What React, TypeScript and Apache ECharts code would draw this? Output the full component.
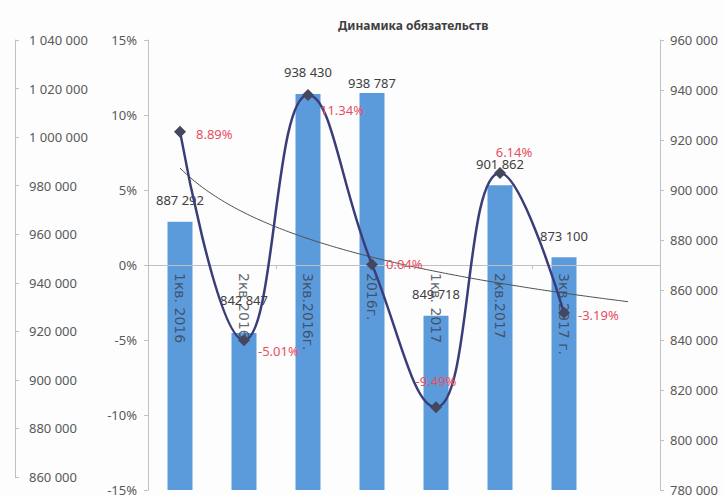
import React, { useEffect, useRef } from "react";
import * as echarts from "echarts";

// ---- data ----
const categories = ["1кв. 2016", "2кв.2016", "3кв.2016г.", "2016г.", "1кв. 2017", "2кв.2017", "3кв.2017 г.", ""];
const liabilities = [887292, 842847, 938430, 938787, 849718, 901862, 873100];
const growthPct = [8.89, -5.01, 11.34, 0.04, -9.49, 6.14, -3.19];
const titleText = "Динамика обязательств";
const pctAxis = { min: -15, max: 15, step: 5 };
const rightAxis = { min: 780000, max: 960000, step: 20000 };
const leftAxis = { min: 860000, max: 1040000, step: 20000 };
const categoryAxisCrossesAt = 0; // category axis crosses the % axis at 0%
const trendForwardPeriods = 1;

// Excel-style logarithmic trendline fitted to growthPct (least squares on ln x)
function logFit(ys: number[]) {
  const xs = ys.map((_, i) => Math.log(i + 1));
  const n = ys.length;
  const mx = xs.reduce((a, b) => a + b, 0) / n;
  const my = ys.reduce((a, b) => a + b, 0) / n;
  let sxy = 0, sxx = 0;
  for (let i = 0; i < n; i++) {
    sxy += (xs[i] - mx) * (ys[i] - my);
    sxx += (xs[i] - mx) * (xs[i] - mx);
  }
  const b = sxy / sxx;
  return { a: my - b * mx, b };
}

const fmtThousands = (v: number) => String(v).replace(/\B(?=(\d{3})+(?!\d))/g, " ");

export default function App() {
  const ref = useRef<HTMLDivElement>(null);
  useEffect(() => {
    document.body.style.margin = "0";
    if (!ref.current) return;
    const chart = echarts.init(ref.current, undefined, { renderer: "svg" });

    const { a, b } = logFit(growthPct);
    const trend: number[][] = [];
    const last = growthPct.length + trendForwardPeriods;
    for (let x = 1; x <= last + 1e-9; x += 0.05) trend.push([x, a + b * Math.log(x)]);

    const font = "Noto Sans";
    const gray = "#595959";
    const axisLineColor = "#c0c0c0";

    const barLabelDist: Record<number, number> = { 1: 26, 3: 4 };
    const pctLabel: Record<number, any> = {
      0: { position: "right", distance: 10, offset: [0, 2] },
      1: { position: "right", distance: 8, offset: [0, 11] },
      2: { position: "right", distance: 6, offset: [0, 15] },
      3: { position: "right", distance: 8 },
      4: { position: "top", distance: 14, offset: [0, 0] },
      5: { position: "top", distance: 8, offset: [14, 0] },
      6: { position: "right", distance: 8, offset: [0, 2] },
    };

    chart.setOption({
      animation: false,
      backgroundColor: "#fdfdfd",
      title: {
        text: titleText,
        left: 333,
        top: 14,
        textStyle: { fontFamily: font, fontSize: 12, fontWeight: "bold", color: "#404040" },
      },
      grid: [
        { left: 148, right: 63, top: 40, bottom: 5, outerBoundsMode: "none", containLabel: false },
        { left: 15, width: 10, top: 40, bottom: 18, outerBoundsMode: "none", containLabel: false },
      ],
      xAxis: [
        {
          type: "category",
          gridIndex: 0,
          data: categories,
          axisLine: { onZero: true, onZeroAxisIndex: 0, lineStyle: { color: axisLineColor } },
          axisTick: { show: true, length: 4, lineStyle: { color: axisLineColor } },
          axisLabel: { show: false },
          z: 5,
        },
        { type: "value", gridIndex: 0, min: 0.5, max: 8.5, show: false },
        { type: "value", gridIndex: 1, show: false },
      ],
      yAxis: [
        {
          type: "value",
          gridIndex: 0,
          position: "left",
          min: pctAxis.min,
          max: pctAxis.max,
          interval: pctAxis.step,
          axisLine: { show: true, onZero: false, lineStyle: { color: axisLineColor } },
          axisTick: { show: true, length: 4, lineStyle: { color: axisLineColor } },
          splitLine: { show: false },
          axisLabel: { formatter: "{value}%", margin: 11, fontFamily: font, fontSize: 13, color: gray },
        },
        {
          type: "value",
          gridIndex: 0,
          position: "right",
          min: rightAxis.min,
          max: rightAxis.max,
          interval: rightAxis.step,
          axisLine: { show: true, onZero: false, lineStyle: { color: axisLineColor } },
          axisTick: { show: true, length: 4, lineStyle: { color: axisLineColor } },
          splitLine: { show: false },
          axisLabel: { formatter: fmtThousands, margin: 10, fontFamily: font, fontSize: 13, color: gray },
        },
        {
          type: "value",
          gridIndex: 1,
          position: "left",
          min: leftAxis.min,
          max: leftAxis.max,
          interval: leftAxis.step,
          axisLine: { show: true, onZero: false, lineStyle: { color: axisLineColor } },
          axisTick: { show: true, inside: true, length: 4, lineStyle: { color: axisLineColor } },
          splitLine: { show: false },
          axisLabel: { inside: true, formatter: fmtThousands, margin: 14, fontFamily: font, fontSize: 13, color: gray },
        },
      ],
      series: [
        {
          type: "bar",
          xAxisIndex: 0,
          yAxisIndex: 1,
          barWidth: 25,
          itemStyle: { color: "#5c9bdb" },
          data: liabilities.map((v, i) => ({
            value: v,
            label: { distance: barLabelDist[i] ?? 15 },
          })),
          label: {
            show: true,
            position: "top",
            formatter: (p: any) => fmtThousands(p.value),
            fontFamily: font,
            fontSize: 13,
            color: "#404040",
          },
          z: 2,
        },
        {
          // category-axis labels drawn where the axis crosses (0%)
          type: "scatter",
          xAxisIndex: 0,
          yAxisIndex: 0,
          symbolSize: 0,
          silent: true,
          data: categories.map((c) => [c, categoryAxisCrossesAt]),
          label: {
            show: true,
            position: "bottom",
            distance: 8,
            rotate: -90,
            align: "left",
            verticalAlign: "middle",
            formatter: (p: any) => p.name || categories[p.dataIndex],
            fontFamily: "DejaVu Sans",
            fontSize: 14,
            color: "#3a3f4a",
          },
          z: 3,
        },
        {
          type: "line",
          xAxisIndex: 1,
          yAxisIndex: 0,
          data: trend,
          showSymbol: false,
          lineStyle: { color: "#505050", width: 1 },
          silent: true,
          z: 4,
        },
        {
          type: "line",
          xAxisIndex: 0,
          yAxisIndex: 0,
          smooth: 0.45,
          symbol: "diamond",
          symbolSize: 12,
          itemStyle: { color: "#45475f" },
          lineStyle: { color: "#3a3d78", width: 2.5 },
          data: growthPct.map((v, i) => ({ value: v, label: pctLabel[i] })),
          label: {
            show: true,
            formatter: (p: any) => p.value.toFixed(2) + "%",
            fontFamily: font,
            fontSize: 13,
            color: "#e84e62",
          },
          z: 5,
        },
      ],
    });
    return () => chart.dispose();
  }, []);
  return <div ref={ref} style={{ width: 723, height: 495 }} />;
}
